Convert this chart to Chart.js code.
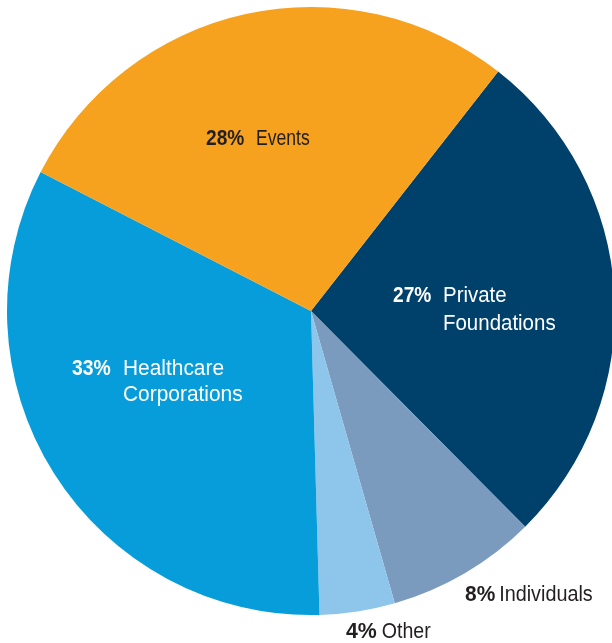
<!DOCTYPE html>
<html>
<head>
<meta charset="utf-8">
<script src="https://cdn.jsdelivr.net/npm/chart.js@4"></script>
<style>
  html, body { margin: 0; padding: 0; background: #ffffff; overflow: hidden; width: 612px; height: 643px; }
  #wrap { position: absolute; left: 0; top: 0; width: 622px; height: 643px; }
</style>
</head>
<body>
<div id="wrap"><canvas id="c"></canvas></div>
<script>
const categories = ['Private Foundations', 'Individuals', 'Other', 'Healthcare Corporations', 'Events'];
const values = [27, 8, 4, 33, 28];
const labelLines = [['Private', 'Foundations'], ['Individuals'], ['Other'], ['Healthcare', 'Corporations'], ['Events']];
const sliceColors = ['#00416C', '#7A9BBE', '#8EC5EA', '#079DDA', '#F7A21E'];
const textColors = ['#ffffff', '#231F20', '#231F20', '#ffffff', '#231F20'];
// label placement relative to pie centre (in units of the radius) and horizontal condensing
const labelPlacement = [
  { pct: 0.2697, txt: 0.4342, y: -0.0306, lh: 28, sp: 0.87, st: 0.93 },
  { pct: 0.5066, txt: 0.6190, y: 0.9530, lh: 27, sp: 0.95, st: 0.90 },
  { pct: 0.1151, txt: 0.2326, y: 1.0747, lh: 27, sp: 0.97, st: 0.89 },
  { pct: -0.7862, txt: -0.6184, y: 0.2115, lh: 26, sp: 0.88, st: 0.95 },
  { pct: -0.3454, txt: -0.1809, y: -0.5461, lh: 27, sp: 0.87, st: 0.80 }
];
const FONT = '"Liberation Sans", Arial, sans-serif';

function drawCondensed(ctx, str, x, y, s) {
  ctx.save();
  ctx.translate(x, y);
  ctx.scale(s, 1);
  ctx.fillText(str, 0, 0);
  ctx.restore();
}

const labelPlugin = {
  id: 'sliceLabels',
  afterDatasetsDraw(chart) {
    const ctx = chart.ctx;
    const meta = chart.getDatasetMeta(0);
    const arc0 = meta.data[0];
    const cx = arc0.x, cy = arc0.y, r = arc0.outerRadius;
    const data = chart.data.datasets[0].data;
    ctx.save();
    ctx.textBaseline = 'alphabetic';
    ctx.textAlign = 'left';
    data.forEach((v, i) => {
      const p = labelPlacement[i];
      const y = cy + p.y * r;
      ctx.fillStyle = textColors[i];
      ctx.font = 'bold 22px ' + FONT;
      drawCondensed(ctx, v + '%', cx + p.pct * r, y, p.sp);
      ctx.font = '22px ' + FONT;
      labelLines[i].forEach((line, j) => {
        drawCondensed(ctx, line, cx + p.txt * r, y + j * p.lh, p.st);
      });
    });
    ctx.restore();
  }
};

new Chart(document.getElementById('c'), {
  type: 'pie',
  data: {
    labels: categories,
    datasets: [{
      data: values,
      backgroundColor: sliceColors,
      borderWidth: 0
    }]
  },
  options: {
    responsive: true,
    maintainAspectRatio: false,
    animation: false,
    rotation: 38,
    layout: { padding: { left: 7, right: 7, top: 7, bottom: 28 } },
    plugins: { legend: { display: false }, tooltip: { enabled: false } }
  },
  plugins: [labelPlugin]
});
</script>
</body>
</html>
